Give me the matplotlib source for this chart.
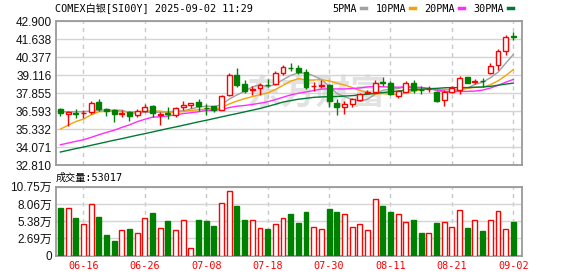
import matplotlib
matplotlib.use('Agg')
import matplotlib.pyplot as plt
from matplotlib.patches import Rectangle
from matplotlib.lines import Line2D

TITLE = 'COMEX白银[SI00Y] 2025-09-02 11:29'

# daily OHLC, 60 sessions (06-11 .. 09-02)
opens = [36.73, 36.42, 36.45, 36.46, 36.50, 37.22, 36.75, 36.68, 36.42, 36.50,
         36.29, 36.57, 36.92, 36.33, 36.45, 36.35, 36.85, 37.02, 37.20, 36.82,
         36.92, 36.68, 37.74, 39.14, 38.49, 38.10, 38.21, 38.46, 38.51, 39.30,
         39.65, 39.61, 39.37, 38.35, 38.37, 38.44, 37.15, 36.87, 37.10, 37.39,
         37.90, 37.97, 38.62, 38.60, 37.62, 37.97, 38.60, 38.10, 38.12, 37.97,
         37.39, 37.97, 38.09, 38.98, 38.65, 38.74, 39.26, 39.84, 40.84, 41.85]
highs = [36.80, 36.60, 36.73, 36.68, 37.29, 37.46, 36.83, 36.75, 36.68, 36.62,
         36.74, 37.11, 37.00, 36.50, 36.85, 36.85, 37.27, 37.18, 37.43, 37.08,
         36.98, 37.73, 39.26, 39.65, 38.79, 38.37, 38.60, 38.85, 39.40, 39.84,
         39.96, 39.84, 39.54, 38.65, 38.77, 38.51, 37.43, 37.30, 37.53, 37.90,
         38.10, 38.78, 39.00, 38.70, 38.10, 38.72, 38.78, 38.37, 38.37, 38.04,
         38.10, 38.37, 39.06, 39.00, 38.86, 38.90, 40.00, 40.96, 41.92, 42.12]
lows = [36.26, 35.57, 36.10, 36.10, 36.38, 36.62, 36.22, 35.84, 36.17, 35.90,
        36.15, 36.54, 36.20, 35.60, 36.03, 36.15, 36.64, 36.80, 36.57, 36.33,
        36.55, 36.64, 37.62, 38.32, 37.86, 37.73, 37.73, 38.30, 38.45, 39.12,
        39.42, 39.20, 38.14, 38.00, 38.20, 36.87, 36.33, 36.40, 36.85, 37.30,
        37.80, 37.87, 38.35, 37.74, 37.50, 37.92, 37.90, 37.80, 37.95, 37.20,
        36.98, 37.90, 37.80, 38.58, 38.50, 38.30, 39.20, 39.47, 40.50, 41.59]
closes = [36.43, 36.54, 36.42, 36.46, 37.15, 36.75, 36.57, 36.38, 36.45, 36.25,
          36.57, 36.90, 36.45, 36.40, 36.40, 36.78, 37.04, 37.15, 36.97, 36.78,
          36.64, 37.67, 39.14, 38.44, 38.04, 38.16, 38.46, 38.42, 39.30, 39.68,
          39.62, 39.37, 38.28, 38.38, 38.41, 37.27, 36.87, 37.08, 37.46, 37.79,
          37.94, 38.55, 38.58, 37.81, 38.04, 38.55, 38.09, 38.07, 38.16, 37.32,
          37.97, 38.21, 38.90, 38.60, 38.69, 38.70, 39.77, 40.82, 41.78, 41.80]
volumes = [74400, 73900, 58700, 48800, 80300, 60000, 31800, 22500, 39400, 41200,
           34700, 58200, 66500, 42500, 53800, 39400, 55000, 12500, 55300, 53800,
           45900, 81600, 100500, 77200, 55300, 56300, 43800, 41200, 50100, 58000,
           64700, 50600, 67800, 45400, 42300, 72500, 67800, 65700, 45400, 50100,
           39400, 87700, 77200, 67800, 64200, 53200, 55300, 35000, 36000, 50600,
           53200, 45400, 70500, 42800, 55000, 38100, 55000, 69100, 41000, 53017]

ma5 = [36.56, 36.55, 36.54, 36.55, 36.60, 36.66, 36.67, 36.66, 36.66, 36.48,
       36.44, 36.51, 36.52, 36.51, 36.54, 36.59, 36.61, 36.75, 36.87, 36.94,
       36.92, 37.04, 37.44, 37.73, 37.99, 38.29, 38.45, 38.30, 38.48, 38.80,
       39.10, 39.28, 39.25, 39.07, 38.81, 38.34, 37.84, 37.60, 37.42, 37.29,
       37.43, 37.76, 38.06, 38.13, 38.18, 38.31, 38.21, 38.11, 38.18, 38.04,
       37.92, 37.95, 38.11, 38.20, 38.47, 38.62, 38.93, 39.32, 39.95, 40.57]
ma10 = [35.33, 35.60, 35.86, 36.03, 36.33, 36.55, 36.58, 36.58, 36.56, 36.54,
        36.55, 36.59, 36.59, 36.59, 36.51, 36.52, 36.56, 36.64, 36.69, 36.74,
        36.76, 36.83, 37.10, 37.30, 37.47, 37.61, 37.75, 37.87, 38.11, 38.40,
        38.70, 38.87, 38.78, 38.78, 38.81, 38.72, 38.56, 38.43, 38.25, 38.05,
        37.89, 37.80, 37.83, 37.78, 37.74, 37.87, 37.99, 38.09, 38.16, 38.11,
        38.12, 38.08, 38.11, 38.19, 38.26, 38.27, 38.44, 38.72, 39.08, 39.52]
ma20 = [34.23, 34.35, 34.47, 34.58, 34.75, 34.93, 35.10, 35.25, 35.45, 35.63,
        35.85, 36.02, 36.17, 36.20, 36.25, 36.33, 36.42, 36.48, 36.55, 36.64,
        36.65, 36.71, 36.84, 36.94, 36.99, 37.06, 37.15, 37.25, 37.40, 37.57,
        37.73, 37.85, 37.94, 38.04, 38.14, 38.16, 38.15, 38.15, 38.18, 38.22,
        38.29, 38.33, 38.30, 38.28, 38.27, 38.30, 38.27, 38.26, 38.20, 38.08,
        38.00, 37.94, 37.97, 37.98, 38.00, 38.07, 38.21, 38.40, 38.62, 38.82]
ma30 = [33.72, 33.84, 33.96, 34.07, 34.19, 34.31, 34.43, 34.55, 34.66, 34.78,
        34.90, 35.01, 35.13, 35.25, 35.37, 35.48, 35.60, 35.72, 35.84, 35.95,
        36.07, 36.19, 36.31, 36.42, 36.54, 36.66, 36.78, 36.92, 37.07, 37.23,
        37.33, 37.43, 37.49, 37.56, 37.59, 37.61, 37.62, 37.65, 37.68, 37.73,
        37.78, 37.83, 37.90, 37.95, 38.00, 38.07, 38.10, 38.13, 38.17, 38.19,
        38.23, 38.25, 38.24, 38.25, 38.27, 38.29, 38.33, 38.41, 38.49, 38.56]

date_pos = [3, 11, 19, 27, 35, 43, 51, 59]
date_labels = ['06-16', '06-26', '07-08', '07-18', '07-30', '08-11', '08-21', '09-02']
price_ticks = [32.810, 34.071, 35.332, 36.593, 37.855, 39.116, 40.377, 41.638, 42.900]
price_labels = ['32.810', '34.071', '35.332', '36.593', '37.855', '39.116', '40.377', '41.638', '42.900']
vol_ticks = [0, 26875, 53750, 80625, 107500]
vol_labels = ['0', '2.69万', '5.38万', '8.06万', '10.75万']

ma_names = ['5PMA', '10PMA', '20PMA', '30PMA']
ma_colors = ['#A0A0A0', '#F5A300', '#FF2BFF', '#007A33']

RED = '#FF0000'
GREEN = '#008000'
GRID = '#D4D4D4'
SPINE = '#9A9A9A'
MONO = ['DejaVu Sans Mono', 'Noto Sans CJK SC']
SANS = ['Liberation Sans', 'Noto Sans CJK SC']

W, H = 578, 276
fig = plt.figure(figsize=(W / 100, H / 100), dpi=100)
fig.patch.set_facecolor('white')

ax = fig.add_axes([56 / W, (H - 165) / H, 466 / W, 143.7 / H])
axv = fig.add_axes([56 / W, (H - 255.7) / H, 466 / W, 69 / H])

n = len(closes)
xs = list(range(n))
body_w = 0.64

# watermark
ax.text(0.56, 0.5, '东方财富', transform=ax.transAxes, fontsize=25,
        color='#E2E2E2', ha='center', va='center', family='Noto Sans CJK SC',
        fontweight='bold', zorder=0.5)

# moving averages
for vals, col in zip([ma5, ma10, ma20, ma30], ma_colors):
    ax.plot(xs, vals, color=col, lw=1, zorder=2)

# candles
for i in xs:
    o, h, l, c = opens[i], highs[i], lows[i], closes[i]
    up = c >= o
    col = RED if up else GREEN
    lo_b, hi_b = min(o, c), max(o, c)
    ax.vlines(i, l, lo_b, color=col, lw=1, zorder=3)
    ax.vlines(i, hi_b, h, color=col, lw=1, zorder=3)
    ax.add_patch(Rectangle((i - body_w / 2, lo_b), body_w, hi_b - lo_b,
                           facecolor='white' if up else col, edgecolor=col,
                           lw=1, zorder=4))

# volume bars
for i in xs:
    up = closes[i] >= opens[i]
    col = RED if up else GREEN
    axv.add_patch(Rectangle((i - body_w / 2, 0), body_w, volumes[i],
                            facecolor='white' if up else col, edgecolor=col,
                            lw=1, zorder=3))

for a in (ax, axv):
    a.set_xlim(-0.57, n + 0.13)
    a.set_xticks(date_pos)
    a.grid(axis='x', color='#C8C8C8', lw=1, ls=(0, (3, 3)), zorder=0)
    a.grid(axis='y', color=GRID, lw=1, ls='-', zorder=0)
    a.set_axisbelow(True)
    for s in a.spines.values():
        s.set_color(SPINE)
        s.set_linewidth(1.3)
    a.tick_params(length=0)

ax.set_ylim(price_ticks[0], price_ticks[-1])
ax.set_yticks(price_ticks)
ax.set_yticklabels(price_labels, family=SANS, fontsize=8.5, color='#111111')
ax.set_xticklabels([])
ax.tick_params(axis='y', pad=3)

axv.set_ylim(0, vol_ticks[-1])
axv.set_yticks(vol_ticks)
axv.set_yticklabels(vol_labels, family=SANS, fontsize=8.5, color='#111111')
axv.set_xticklabels(date_labels, family=MONO, fontsize=7.3, color=RED)
axv.tick_params(axis='y', pad=3)
axv.tick_params(axis='x', pad=4)

fig.text(55 / W, 1 - 9 / H, TITLE, ha='left', va='center', fontsize=7.3, family=MONO)
fig.text(56 / W, 1 - 178 / H, f'成交量:{volumes[-1]}', ha='left', va='center',
         fontsize=7.3, family=MONO)

handles = [Line2D([], [], color=c, lw=2.5) for c in ma_colors]
fig.legend(handles, ma_names, loc='center right', bbox_to_anchor=(513 / W, 1 - 9 / H),
           bbox_transform=fig.transFigure, ncol=4, frameon=False, markerfirst=False,
           handlelength=0.5, handletextpad=0.4, columnspacing=0.9,
           prop={'family': MONO, 'size': 7.3}, borderpad=0, borderaxespad=0)

fig.savefig('out.png', dpi=100)
